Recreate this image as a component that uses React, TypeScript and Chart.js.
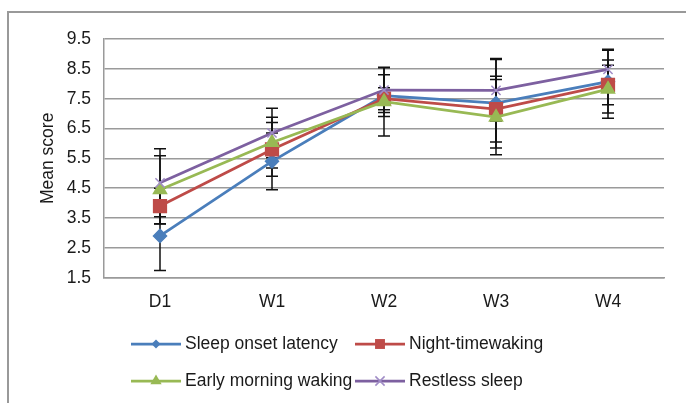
import React, { useEffect, useRef } from 'react';
import { Chart, registerables } from 'chart.js';

Chart.register(...registerables);

const categories = ['D1', 'W1', 'W2', 'W3', 'W4'];
const seriesNames = ['Sleep onset latency', 'Night-timewaking', 'Early morning waking', 'Restless sleep'];
const sleepOnsetLatency = [2.9, 5.4, 7.6, 7.35, 8.07];
const sleepOnsetLatencySD = [1.16, 0.95, 0.7, 1.5, 1.05];
const nightTimeWaking = [3.9, 5.8, 7.5, 7.15, 7.96];
const nightTimeWakingSD = [0.6, 0.9, 0.37, 1.1, 0.66];
const earlyMorningWaking = [4.45, 6.03, 7.4, 6.88, 7.82];
const earlyMorningWakingSD = [1.14, 0.85, 1.15, 1.26, 0.98];
const restlessSleep = [4.68, 6.35, 7.79, 7.78, 8.48];
const restlessSleepSD = [1.14, 0.83, 0.75, 1.03, 0.68];
const yTickValues = [1.5, 2.5, 3.5, 4.5, 5.5, 6.5, 7.5, 8.5, 9.5];

const lineColors = ['#4A7EBB', '#BE4B48', '#98B954', '#7D60A0'];
const markerColors = ['#4A7EBB', '#BE4B48', '#98B954', '#A08CC6'];
const markerStyles = ['rectRot', 'rect', 'triangle', 'crossRot'];
const markerRadius = [6.5, 9, 7.5, 6.5];
const legendMarkerRadius = [4.5, 7, 6.5, 6.5];

const FONT = "'Liberation Sans', Arial, sans-serif";
const TEXT = '#1a1a1a';
const GRID = '#9a9a9a';

function drawMarker(ctx: CanvasRenderingContext2D, style: string, x: number, y: number, r: number, color: string) {
  ctx.save();
  ctx.fillStyle = color;
  ctx.strokeStyle = color;
  ctx.lineWidth = 1.5;
  ctx.beginPath();
  if (style === 'rectRot') {
    ctx.moveTo(x, y - r); ctx.lineTo(x + r, y); ctx.lineTo(x, y + r); ctx.lineTo(x - r, y); ctx.closePath(); ctx.fill();
  } else if (style === 'rect') {
    const s = r * Math.SQRT1_2;
    ctx.rect(x - s, y - s, 2 * s, 2 * s); ctx.fill();
  } else if (style === 'triangle') {
    ctx.moveTo(x, y - r); ctx.lineTo(x + r * 0.87, y + r * 0.5); ctx.lineTo(x - r * 0.87, y + r * 0.5); ctx.closePath(); ctx.fill();
  } else {
    const d = r * Math.SQRT1_2;
    ctx.moveTo(x - d, y - d); ctx.lineTo(x + d, y + d); ctx.moveTo(x + d, y - d); ctx.lineTo(x - d, y + d); ctx.stroke();
  }
  ctx.restore();
}

const framePlugin = {
  id: 'frame',
  beforeDraw(chart: any) {
    const ctx = chart.ctx;
    ctx.save();
    ctx.strokeStyle = '#999999';
    ctx.lineWidth = 2;
    ctx.beginPath();
    ctx.moveTo(8, 404);
    ctx.lineTo(8, 12);
    ctx.lineTo(690, 12);
    ctx.stroke();
    ctx.restore();
  },
};

const sdSets = [sleepOnsetLatencySD, nightTimeWakingSD, earlyMorningWakingSD, restlessSleepSD];

const errorBarPlugin = {
  id: 'errorBars',
  beforeDatasetsDraw(chart: any) {
    const ctx = chart.ctx;
    const yScale = chart.scales.y;
    ctx.save();
    ctx.strokeStyle = '#111';
    ctx.lineWidth = 1.5;
    chart.data.datasets.forEach((ds: any, i: number) => {
      const meta = chart.getDatasetMeta(i);
      meta.data.forEach((pt: any, j: number) => {
        const v = ds.data[j];
        const s = sdSets[i][j];
        const yt = yScale.getPixelForValue(v + s);
        const yb = yScale.getPixelForValue(v - s);
        ctx.beginPath();
        ctx.moveTo(pt.x, yt); ctx.lineTo(pt.x, yb);
        ctx.moveTo(pt.x - 6, yt); ctx.lineTo(pt.x + 6, yt);
        ctx.moveTo(pt.x - 6, yb); ctx.lineTo(pt.x + 6, yb);
        ctx.stroke();
      });
    });
    ctx.restore();
  },
};

const legendPlugin = {
  id: 'customLegend',
  afterDraw(chart: any) {
    const ctx = chart.ctx;
    const items = [
      { x: 131, y: 344 },
      { x: 355, y: 344 },
      { x: 131, y: 381 },
      { x: 355, y: 381 },
    ];
    ctx.save();
    items.forEach((it, i) => {
      ctx.strokeStyle = lineColors[i];
      ctx.lineWidth = 2.75;
      ctx.beginPath();
      ctx.moveTo(it.x, it.y);
      ctx.lineTo(it.x + 50, it.y);
      ctx.stroke();
      drawMarker(ctx, markerStyles[i], it.x + 25, it.y, legendMarkerRadius[i], markerColors[i]);
      ctx.fillStyle = TEXT;
      ctx.font = `17.5px ${FONT}`;
      ctx.textAlign = 'left';
      ctx.textBaseline = 'middle';
      ctx.fillText(seriesNames[i], it.x + 54, it.y);
    });
    ctx.restore();
  },
};

export default function App() {
  const ref = useRef<HTMLCanvasElement | null>(null);
  useEffect(() => {
    if (!ref.current) return;
    const values = [sleepOnsetLatency, nightTimeWaking, earlyMorningWaking, restlessSleep];
    const chart = new Chart(ref.current, {
      type: 'line',
      data: {
        labels: categories,
        datasets: values.map((d, i) => ({
          label: seriesNames[i],
          data: d,
          borderColor: lineColors[i],
          backgroundColor: markerColors[i],
          pointBackgroundColor: markerColors[i],
          pointBorderColor: markerColors[i],
          pointBorderWidth: 1.5,
          pointStyle: markerStyles[i] as any,
          pointRadius: markerRadius[i],
          borderWidth: 2.75,
          tension: 0,
          fill: false,
          order: 3 - i,
        })),
      },
      options: {
        responsive: false,
        animation: false,
        layout: { padding: { left: 0, top: 39, right: 22, bottom: 0 } },
        plugins: { legend: { display: false }, tooltip: { enabled: false } },
        scales: {
          x: {
            offset: true,
            grid: { display: false, drawTicks: false },
            border: { display: true, color: GRID, width: 1.5 },
            ticks: { color: TEXT, font: { family: FONT, size: 17.5 }, padding: 14 },
            afterFit: (s: any) => { s.height = 125.3; },
          },
          y: {
            min: 1.5,
            max: 9.5,
            afterBuildTicks: (s: any) => { s.ticks = yTickValues.map((v) => ({ value: v })); },
            grid: { color: GRID, lineWidth: 1.5, drawTicks: false },
            border: { display: true, color: GRID, width: 1.5 },
            ticks: {
              color: TEXT,
              font: { family: FONT, size: 17.5 },
              padding: 13,
              callback: (v: any) => Number(v).toFixed(1),
            },
            title: {
              display: true,
              text: 'Mean score',
              color: TEXT,
              font: { family: FONT, size: 17.5 },
              padding: { top: 37.5, bottom: 0 },
            },
            afterFit: (s: any) => { s.width = 104; },
          },
        },
      },
      plugins: [framePlugin, errorBarPlugin, legendPlugin],
    });
    return () => chart.destroy();
  }, []);
  return (
    <div style={{ position: 'fixed', left: 0, top: 0, width: 686, height: 403, background: '#fff' }}>
      <canvas ref={ref} width={686} height={403} style={{ display: 'block' }} />
    </div>
  );
}
